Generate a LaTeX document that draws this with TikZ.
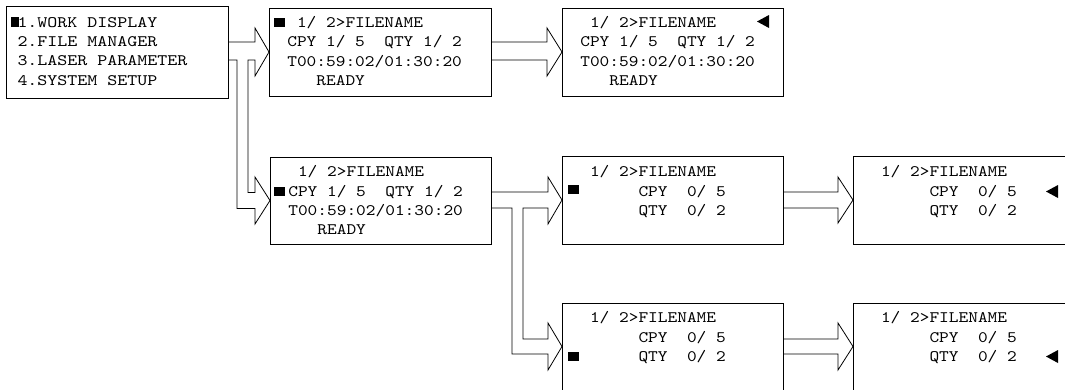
\documentclass[tikz,border=0pt]{standalone}
\usepackage{fontspec}
\usetikzlibrary{calc}
\newfontfamily\lcd{lmmono10-regular.otf}[FakeStretch=1.155]
\newfontfamily\lcdwide{lmmono10-regular.otf}[FakeStretch=1.19]
\newcommand\lcdfont{\lcd\fontsize{16}{19}\selectfont}
\newcommand\menufont{\lcdwide\fontsize{16}{19}\selectfont}
% hollow block arrow from the east side of #1 to the west side of #2
% #3/#4: shaft top/bottom offsets, #5: half height of the head
\newcommand\harrow[5]{%
  \draw[conn] ($(#1.east)+(0,#3)$) -- ($(#2.west)+(-15,#3)$)
    -- ($(#2.west)+(-15,-#5)$) -- (#2.west) -- ($(#2.west)+(-15,#5)$)
    -- ($(#2.west)+(-15,#4)$) -- ($(#1.east)+(0,#4)$);}
\tikzset{
  screen/.style={draw, line width=0.8pt, rectangle, inner sep=0pt, outer sep=0pt},
  conn/.style={draw, line width=0.8pt, line join=miter},
  txt/.style={anchor=base west, inner sep=0pt, outer sep=0pt, font=\lcdfont},
  menutxt/.style={txt, font=\menufont},
}
\begin{document}
\begin{tikzpicture}[x=1pt,y=-1pt]
\useasboundingbox (0,0) rectangle (1065,389);

% screens
\node[screen, minimum width=222pt, minimum height=92pt] (A) at (117,52) {};
\node[screen, minimum width=222pt, minimum height=88pt] (B) at (380,52) {};
\node[screen, minimum width=221pt, minimum height=88pt] (D) at (672.5,52) {};
\node[screen, minimum width=221pt, minimum height=87pt] (C) at (380.5,200.5) {};
\node[screen, minimum width=221pt, minimum height=88pt] (E) at (672.5,200) {};
\node[screen, minimum width=221pt, minimum height=88pt] (G) at (963.5,200) {};
\node[screen, minimum width=221pt, minimum height=87pt] (F) at (672.5,346.5) {};
\node[screen, minimum width=221pt, minimum height=87pt] (H) at (963.5,346.5) {};

% main menu
\fill (11,17) rectangle (18.5,27);
\node[menutxt] (A1) at (17.5,27.3) {1.WORK DISPLAY};
\node[menutxt] (A2) at (17.5,46.6) {2.FILE MANAGER};
\node[menutxt] (A3) at (17.5,65.9) {3.LASER PARAMETER};
\node[menutxt] (A4) at (17.5,85.2) {4.SYSTEM SETUP};

% work display, file line selected
\fill (274,18) rectangle (285,27);
\node[txt] (B1) at (297.0,27.5) {1/ 2>FILENAME};
\node[txt] (B2) at (287.3,46.8) {CPY 1/ 5\ \ QTY 1/ 2};
\node[txt] (B3) at (287.3,66.1) {T00:59:02/01:30:20};
\node[txt] (B4) at (316.4,85.4) {READY};

% work display, file line editing
\fill (757,21.5) -- (769,15) -- (769,28) -- cycle;
\node[txt] (D1) at (590.0,27.5) {1/ 2>FILENAME};
\node[txt] (D2) at (580.3,46.8) {CPY 1/ 5\ \ QTY 1/ 2};
\node[txt] (D3) at (580.3,66.1) {T00:59:02/01:30:20};
\node[txt] (D4) at (609.4,85.4) {READY};

% work display, counter line selected
\fill (274,187) rectangle (285,196);
\node[txt] (C1) at (298.0,176.7) {1/ 2>FILENAME};
\node[txt] (C2) at (288.3,196.0) {CPY 1/ 5\ \ QTY 1/ 2};
\node[txt] (C3) at (288.3,215.3) {T00:59:02/01:30:20};
\node[txt] (C4) at (317.4,234.6) {READY};

% counter screen, CPY selected
\fill (568,185) rectangle (579,194);
\node[txt] (E1) at (590.0,176.7) {1/ 2>FILENAME};
\node[txt] (E2) at (638.5,196.0) {CPY\ \ 0/ 5};
\node[txt] (E3) at (638.5,215.3) {QTY\ \ 0/ 2};

% counter screen, CPY editing
\fill (1046,191.5) -- (1058,185) -- (1058,198) -- cycle;
\node[txt] (G1) at (881.0,176.7) {1/ 2>FILENAME};
\node[txt] (G2) at (929.5,196.0) {CPY\ \ 0/ 5};
\node[txt] (G3) at (929.5,215.3) {QTY\ \ 0/ 2};

% counter screen, QTY selected
\fill (568,352) rectangle (579,361);
\node[txt] (F1) at (590.0,322.7) {1/ 2>FILENAME};
\node[txt] (F2) at (638.5,342.0) {CPY\ \ 0/ 5};
\node[txt] (F3) at (638.5,361.3) {QTY\ \ 0/ 2};

% counter screen, QTY editing
\fill (1046,356.5) -- (1058,350) -- (1058,363) -- cycle;
\node[txt] (H1) at (881.0,322.7) {1/ 2>FILENAME};
\node[txt] (H2) at (929.5,342.0) {CPY\ \ 0/ 5};
\node[txt] (H3) at (929.5,361.3) {QTY\ \ 0/ 2};

% forked arrow: menu -> both work display screens
\draw[conn] ($(A.east)+(0,-10)$) -- ($(B.west)+(-14,-10)$)
  -- ($(B.west)+(-14,-24)$) -- (B.west) -- ($(B.west)+(-14,24)$)
  -- ($(B.west)+(-14,8)$) -- ($(B.west)+(-21,8)$)
  -- ($(C.west)+(-22,-8)$) -- ($(C.west)+(-15,-8)$)
  -- ($(C.west)+(-15,-23.5)$) -- (C.west) -- ($(C.west)+(-15,23.5)$)
  -- ($(C.west)+(-15,8)$) -- ($(C.west)+(-33,8)$)
  -- ($(A.east)+(9,8)$) -- ($(A.east)+(0,8)$);

% forked arrow: counter line -> both counter screens
\draw[conn] ($(C.east)+(0,-8.5)$) -- ($(E.west)+(-14,-8)$)
  -- ($(E.west)+(-14,-23)$) -- (E.west) -- ($(E.west)+(-14,24)$)
  -- ($(E.west)+(-14,8)$) -- ($(E.west)+(-39,8)$)
  -- ($(F.west)+(-39,-7.5)$) -- ($(F.west)+(-14,-7.5)$)
  -- ($(F.west)+(-14,-23.5)$) -- (F.west) -- ($(F.west)+(-14,23.5)$)
  -- ($(F.west)+(-14,7.5)$) -- ($(F.west)+(-50,7.5)$)
  -- ($(C.east)+(21,7.5)$) -- ($(C.east)+(0,7.5)$);

% simple arrows
\harrow{B}{D}{-10}{8}{24}
\harrow{E}{G}{-8}{8}{23}
\harrow{F}{H}{-7.5}{7.5}{23.5}
\end{tikzpicture}
\end{document}
